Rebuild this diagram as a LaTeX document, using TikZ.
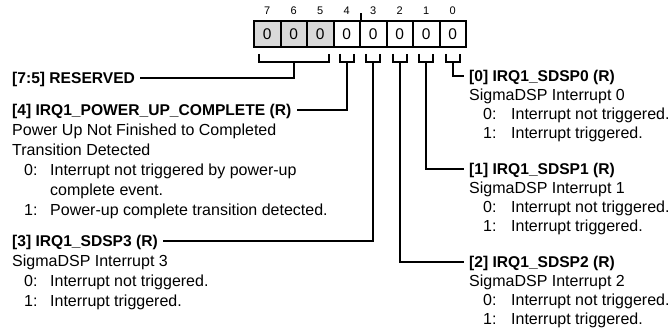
\documentclass[tikz,border=0pt]{standalone}
\usepackage{fontspec}
\setmainfont{Liberation Sans}
\definecolor{boxgray}{RGB}{217,217,217}
\begin{document}
\begin{tikzpicture}[x=1pt,y=-1pt,
  txt/.style={anchor=west, inner sep=0pt, text height=11pt, text depth=0pt, font=\fontsize{16}{19}\selectfont},
  lbl/.style={txt, font=\fontsize{15.6}{19}\selectfont\bfseries},
  bitbox/.style={draw, line width=2pt, minimum width=26.5pt, minimum height=26pt, inner sep=0pt, font=\fontsize{15.5}{18}\selectfont},
  resbox/.style={bitbox, fill=boxgray},
  bitnum/.style={inner sep=0pt, font=\fontsize{11}{13}\selectfont},
  wire/.style={line width=2pt},
]
\useasboundingbox (0,0) rectangle (672,336);

% register boxes
\node[resbox] (b7) at (267.25,34) {0};
\node[resbox] (b6) at (293.75,34) {0};
\node[resbox] (b5) at (320.25,34) {0};
\node[bitbox] (b4) at (346.75,34) {0};
\node[bitbox] (b3) at (373.25,34) {0};
\node[bitbox] (b2) at (399.75,34) {0};
\node[bitbox] (b1) at (426.25,34) {0};
\node[bitbox] (b0) at (452.75,34) {0};

% bit numbers
\node[bitnum] (n7) at (267.25,11) {7};
\node[bitnum] (n6) at (293.75,11) {6};
\node[bitnum] (n5) at (320.25,11) {5};
\node[bitnum] (n4) at (346.75,11) {4};
\node[bitnum] (n3) at (373.25,11) {3};
\node[bitnum] (n2) at (399.75,11) {2};
\node[bitnum] (n1) at (426.25,11) {1};
\node[bitnum] (n0) at (452.75,11) {0};

% nibble tick
\coordinate (tick) at ([yshift=7pt]b4.north east);
\draw[line width=1.5pt] (b4.north east) -- (tick);

% brackets
\draw[wire] ([xshift=6pt,yshift=-6pt]b7.south west) -- ++(0,8) -| ([xshift=-6pt,yshift=-6pt]b5.south east);
\foreach \b in {4,3,2,1,0}{
  \draw[wire] ([xshift=-7pt,yshift=-6pt]b\b.south) -- ++(0,8) -- ++(14,0) -- ++(0,-8);
  \coordinate (s\b) at ([yshift=-14pt]b\b.south);
}
\coordinate (s75) at ([yshift=-14pt]b6.south);

% left labels
\node[lbl] (l75) at (12,78) {[7:5] RESERVED};
\node[lbl] (l4) at (12,110) {[4] IRQ1\_POWER\_UP\_COMPLETE (R)};
\node[txt] (d4a) at (12,130) {Power Up Not Finished to Completed};
\node[txt] (d4b) at (12,150) {Transition Detected};
\node[txt] (d4c) at (24,170) {0:};
\node[txt] (d4d) at (50,170) {Interrupt not triggered by power-up};
\node[txt] (d4e) at (50,190) {complete event.};
\node[txt] (d4f) at (24,210) {1:};
\node[txt] (d4g) at (50,210) {Power-up complete transition detected.};

\node[lbl] (l3) at (12,241) {[3] IRQ1\_SDSP3 (R)};
\node[txt] (d3a) at (12,261) {SigmaDSP Interrupt 3};
\node[txt] (d3b) at (24,281) {0:};
\node[txt] (d3c) at (50,281) {Interrupt not triggered.};
\node[txt] (d3d) at (24,301) {1:};
\node[txt] (d3e) at (50,301) {Interrupt triggered.};

% right labels
\node[lbl] (l0) at (469,76) {[0] IRQ1\_SDSP0 (R)};
\node[txt] (d0a) at (469,95) {SigmaDSP Interrupt 0};
\node[txt] (d0b) at (483,114) {0:};
\node[txt] (d0c) at (511,114) {Interrupt not triggered.};
\node[txt] (d0d) at (483,133) {1:};
\node[txt] (d0e) at (511,133) {Interrupt triggered.};

\node[lbl] (l1) at (469,169) {[1] IRQ1\_SDSP1 (R)};
\node[txt] (d1a) at (469,188) {SigmaDSP Interrupt 1};
\node[txt] (d1b) at (483,207) {0:};
\node[txt] (d1c) at (511,207) {Interrupt not triggered.};
\node[txt] (d1d) at (483,226) {1:};
\node[txt] (d1e) at (511,226) {Interrupt triggered.};

\node[lbl] (l2) at (469,262) {[2] IRQ1\_SDSP2 (R)};
\node[txt] (d2a) at (469,281) {SigmaDSP Interrupt 2};
\node[txt] (d2b) at (483,300) {0:};
\node[txt] (d2c) at (511,300) {Interrupt not triggered.};
\node[txt] (d2d) at (483,319) {1:};
\node[txt] (d2e) at (511,319) {Interrupt triggered.};

% connectors
\draw[wire] (s75) |- ([xshift=5pt]l75.east);
\draw[wire] (s4) |- ([xshift=5pt]l4.east);
\draw[wire] (s3) |- ([xshift=5pt]l3.east);
\draw[wire] (s0) |- ([xshift=-5pt]l0.west);
\draw[wire] (s1) |- ([xshift=-5pt]l1.west);
\draw[wire] (s2) |- ([xshift=-5pt]l2.west);
\end{tikzpicture}
\end{document}
